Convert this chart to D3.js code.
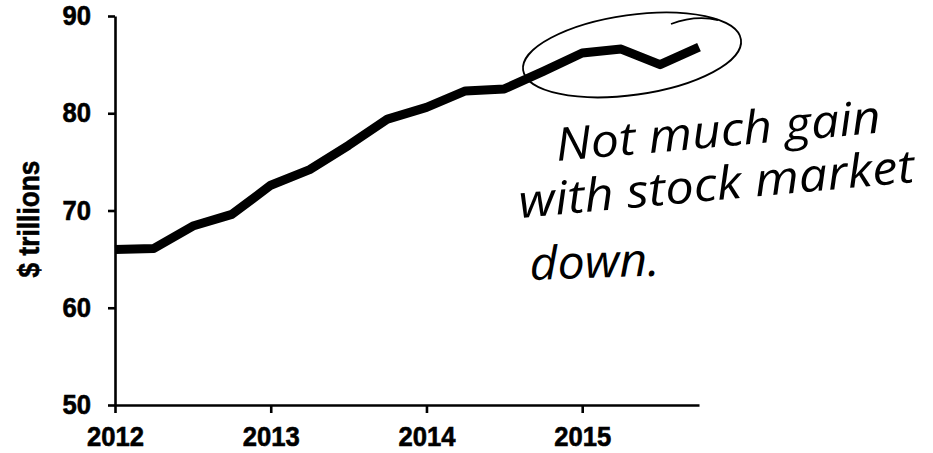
<!DOCTYPE html>
<html>
<head>
<meta charset="utf-8">
<script src="https://cdn.jsdelivr.net/npm/d3@7"></script>
<style>
  body { margin: 0; background: #fff; }
  svg { display: block; }
</style>
</head>
<body>
<svg id="chart"></svg>
<script>
// quarterly values
var quarters = [2012, 2012.25, 2012.5, 2012.75, 2013, 2013.25, 2013.5, 2013.75,
                2014, 2014.25, 2014.5, 2014.75, 2015, 2015.25, 2015.5, 2015.75];
var wealth = [66.0, 66.1, 68.4, 69.6, 72.6, 74.2, 76.7, 79.4,
              80.6, 82.3, 82.5, 84.3, 86.2, 86.6, 85.0, 86.8];
var yearTicks = [2012, 2013, 2014, 2015];
var valueTicks = [50, 60, 70, 80, 90];
var noteLines = ["Not much gain", "with stock market", "down."];

// set the dimensions and margins of the graph
var margin = {top: 16, right: 234, bottom: 48, left: 115},
  width = 933 - margin.left - margin.right,
  height = 453 - margin.top - margin.bottom;

var svg = d3.select("#chart")
  .attr("width", width + margin.left + margin.right)
  .attr("height", height + margin.top + margin.bottom)
  .append("g")
  .attr("transform", "translate(" + margin.left + "," + margin.top + ")");

var x = d3.scaleLinear().domain([2012, 2015.75]).range([0, width]);
var y = d3.scaleLinear().domain([50, 90]).range([height, 0]);

var fontAxis = "'Liberation Sans', Arial, sans-serif";

// x axis
var xAxis = svg.append("g")
  .attr("transform", "translate(0," + height + ")")
  .call(d3.axisBottom(x).tickValues(yearTicks).tickFormat(d3.format("d"))
    .tickSize(8).tickSizeOuter(0));

xAxis.selectAll("text")
  .attr("y", 41).attr("dy", null)
  .attr("textLength", 57).attr("lengthAdjust", "spacingAndGlyphs");

// y axis
var yAxis = svg.append("g")
  .call(d3.axisLeft(y).tickValues(valueTicks).tickSize(7).tickPadding(17).tickSizeOuter(0));

yAxis.selectAll("text")
  .attr("textLength", 28.5).attr("lengthAdjust", "spacingAndGlyphs");

svg.selectAll(".tick text")
  .style("font-family", fontAxis)
  .style("font-weight", "bold")
  .style("font-size", "27px")
  .attr("fill", "#000")
  .attr("stroke", "#000")
  .attr("stroke-width", 0.6);
svg.selectAll(".domain, .tick line")
  .attr("stroke", "#000")
  .attr("stroke-width", 2.6);

// y label
svg.append("text")
  .attr("transform", "translate(" + (39 - margin.left) + "," + (219 - margin.top) + ") rotate(-90)")
  .attr("text-anchor", "middle")
  .attr("textLength", 117).attr("lengthAdjust", "spacingAndGlyphs")
  .attr("stroke", "#000").attr("stroke-width", 0.6)
  .style("font-family", fontAxis)
  .style("font-weight", "bold")
  .style("font-size", "29px")
  .text("$ trillions");

// the line
var line = d3.line()
  .x(function(d, i) { return x(quarters[i]); })
  .y(function(d) { return y(d); });

svg.append("path")
  .datum(wealth)
  .attr("fill", "none")
  .attr("stroke", "#000")
  .attr("stroke-width", 9)
  .attr("stroke-linejoin", "round")
  .attr("d", line);

// hand drawn ellipse round the last quarters
var note = svg.append("g")
  .attr("fill", "none")
  .attr("stroke", "#000")
  .attr("stroke-width", 1.8);

note.append("ellipse")
  .attr("transform", "translate(" + x(2015.32) + "," + (y(86.0)) + ") rotate(-8)")
  .attr("rx", 110)
  .attr("ry", 40);

note.append("path")
  .attr("d", "M" + (671 - margin.left) + "," + (24 - margin.top) +
             " Q" + (695 - margin.left) + "," + (15 - margin.top) +
             " " + (718 - margin.left) + "," + (20 - margin.top));

// handwritten note
var notePos = [
  {x: 557, y: 161, rot: -5, len: 326},
  {x: 520, y: 218, rot: -5.2, len: 397},
  {x: 530, y: 280, rot: -2, len: 130}
];

svg.selectAll(".note")
  .data(noteLines)
  .enter()
  .append("text")
  .attr("class", "note")
  .attr("transform", function(d, i) {
    var p = notePos[i];
    return "translate(" + (p.x - margin.left) + "," + (p.y - margin.top) + ") rotate(" + p.rot + ") scale(1,1.15)";
  })
  .attr("textLength", function(d, i) { return notePos[i].len; })
  .attr("lengthAdjust", "spacingAndGlyphs")
  .style("font-family", "'Open Sans', sans-serif")
  .style("font-style", "italic")
  .style("font-size", "40px")
  .text(function(d) { return d; });
</script>
</body>
</html>
